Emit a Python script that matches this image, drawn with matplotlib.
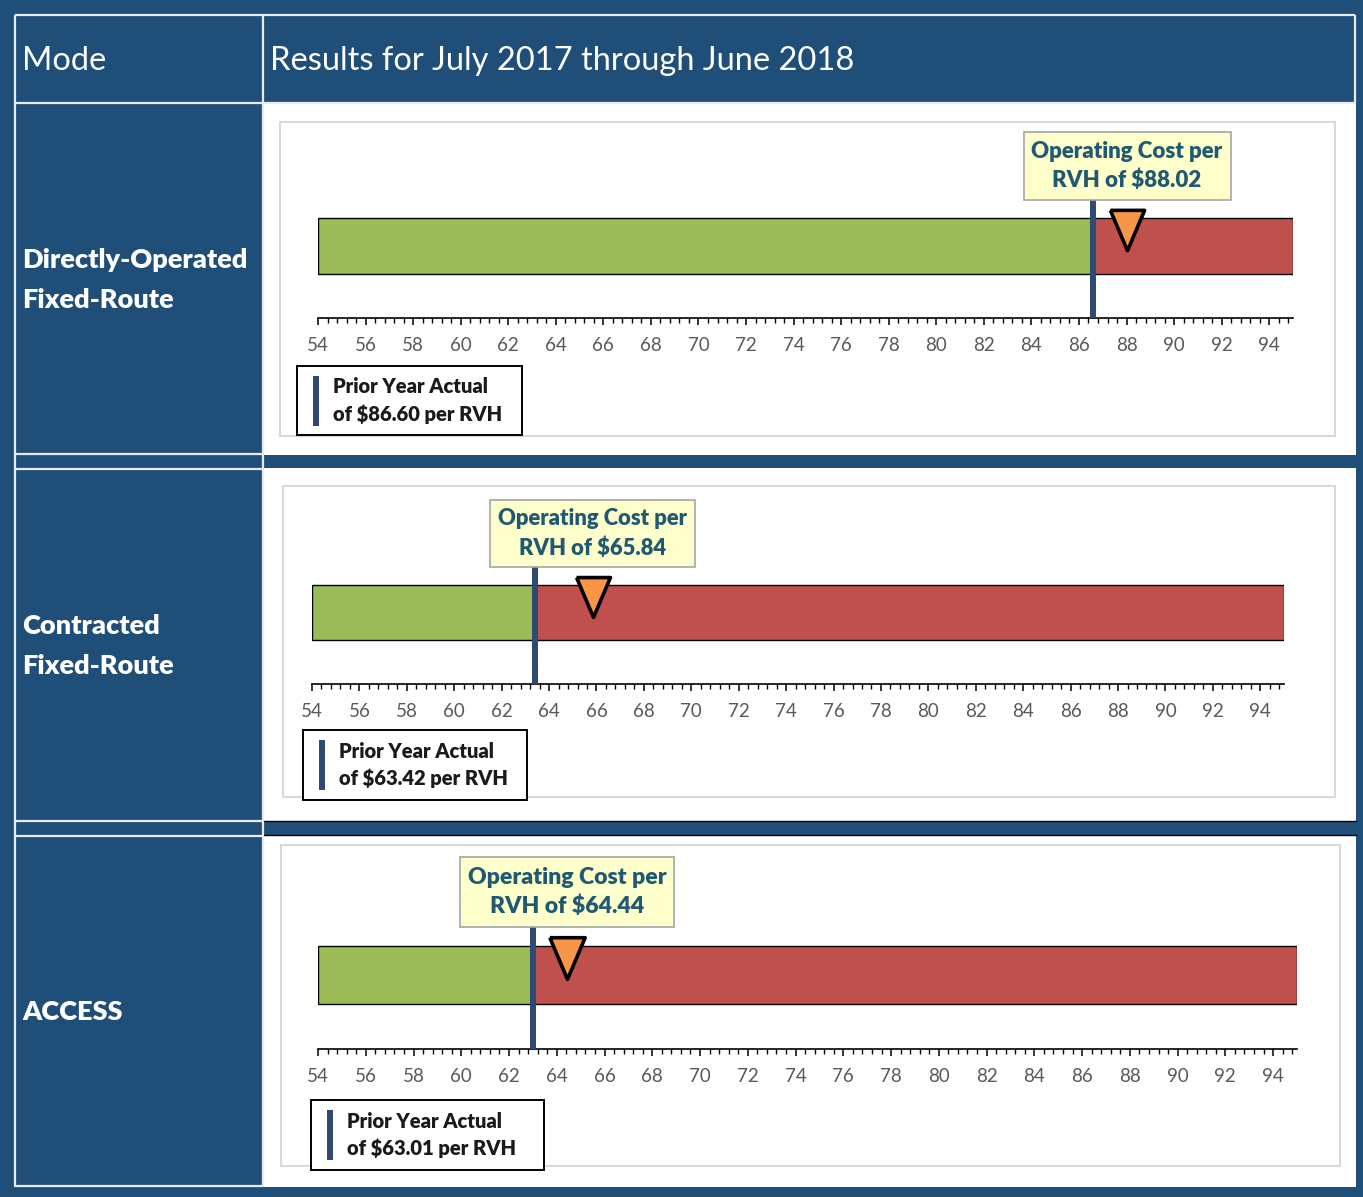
import numpy as np
import matplotlib
matplotlib.use("Agg")
import matplotlib.pyplot as plt
from matplotlib.patches import Rectangle

# Data
MODES = ["Directly-Operated\nFixed-Route", "Contracted\nFixed-Route", "ACCESS"]
COST_PER_RVH = [88.02, 65.84, 64.44]
PRIOR_YEAR = [86.60, 63.42, 63.01]
AXIS_MIN = 54
AXIS_MAX = 95
TICK_LABELS = list(range(54, 95, 2))

HEADER_MODE = "Mode"
HEADER_RESULTS = "Results for July 2017 through June 2018"

# Colours
NAVY = "#1F4E79"
GREEN = "#9BBB59"
RED = "#C0504D"
ORANGE = "#F79646"
PRIOR_BLUE = "#2E4A70"
CALLOUT_FILL = "#FFFFCC"
CALLOUT_TEXT = "#1F5A72"
GRID_GREY = "#D9D9D9"

W, H = 1363, 1197
BOLD = "heavy"

plt.rcParams["font.family"] = ["Lato", "DejaVu Sans"]

# Pixel layout of each chart panel (left, right of axis, callout top, axis line)
LAYOUT = [
    dict(panel=(280, 122, 1335, 436), x0=318, x1=1293, top=132, base=318,
         legend=(297, 366, 522, 435)),
    dict(panel=(283, 486, 1335, 797), x0=312, x1=1284, top=500, base=684,
         legend=(303, 730, 527, 800)),
    dict(panel=(281, 845, 1340, 1166), x0=318, x1=1297, top=857, base=1049,
         legend=(311, 1100, 544, 1170)),
]
ROW_LABEL_Y = [280, 646, 1012]


def rect(ax, x0, y0, x1, y1, **kw):
    """Add a rectangle given by its corners in pixel coordinates."""
    ax.add_patch(Rectangle((x0, y0), x1 - x0, y1 - y0, **kw))


def draw_table(bg):
    """Draw the navy table frame, cells and headers."""
    rect(bg, 263, 103, 1356, 1187, fc="white", ec="none")
    rect(bg, 263, 455, 1356, 468, fc=NAVY, ec="none")
    rect(bg, 263, 821, 1356, 835, fc=NAVY, ec="none")
    bg.plot([263, 1356], [821, 821], color="black", lw=1)
    bg.plot([263, 1356], [835, 835], color="black", lw=1)

    line = dict(color="#E8ECF2", lw=1.6, solid_capstyle="butt")
    bg.plot([15, 1355], [15, 15], **line)
    bg.plot([15, 15], [15, 1187], **line)
    bg.plot([263, 263], [15, 1187], **line)
    bg.plot([1355, 1355], [15, 103], **line)
    bg.plot([15, 1355], [103, 103], **line)
    for y in (454, 469, 821, 836, 1186):
        bg.plot([15, 263], [y, y], **line)

    bg.text(22, 61, HEADER_MODE, color="white", fontsize=23.5, va="center")
    bg.text(270, 61, HEADER_RESULTS, color="white", fontsize=23.5, va="center")
    for label, y in zip(MODES, ROW_LABEL_Y):
        bg.text(22, y, label, color="white", fontsize=19.5, fontweight=BOLD,
                va="center", linespacing=1.75)


def draw_chart(fig, bg, lay, cost, prior):
    """Draw one bullet-style chart with callout and legend."""
    px, py, qx, qy = lay["panel"]
    rect(bg, px, py, qx, qy, fc="white", ec=GRID_GREY, lw=1.5)

    x0, x1, top, base = lay["x0"], lay["x1"], lay["top"], lay["base"]
    h = base - top
    s = h / 186.0
    ax = fig.add_axes([x0 / W, 1 - base / H, (x1 - x0) / W, h / H])
    ax.set_xlim(AXIS_MIN, AXIS_MAX)
    ax.set_ylim(0, h)
    ax.patch.set_alpha(0)
    for side in ("left", "top", "right"):
        ax.spines[side].set_visible(False)
    ax.spines["bottom"].set_linewidth(1.2)
    ax.set_yticks([])
    ax.set_xticks(TICK_LABELS)
    ax.set_xticks(np.arange(AXIS_MIN, AXIS_MAX + 0.01, 0.4), minor=True)
    ax.tick_params(axis="x", which="major", length=5, width=1.1, pad=9,
                   labelsize=13.5, labelcolor="#595959")
    ax.tick_params(axis="x", which="minor", length=3.5, width=1.0)

    bar_lo, bar_hi = 44 * s, 100 * s
    ax.barh((bar_lo + bar_hi) / 2, prior - AXIS_MIN, left=AXIS_MIN,
            height=bar_hi - bar_lo, color=GREEN, edgecolor="black", lw=1)
    ax.barh((bar_lo + bar_hi) / 2, AXIS_MAX - prior, left=prior,
            height=bar_hi - bar_lo, color=RED, edgecolor="black", lw=1)

    box_lo = 118 * s
    ax.vlines(prior, 0, box_lo, color=PRIOR_BLUE, lw=4.3, zorder=4)

    tri = [(-0.85, 1), (0.85, 1), (0, -1), (-0.85, 1)]
    ax.plot([cost], [88 * s], marker=tri, ms=29 * s, mfc=ORANGE, mec="black",
            mew=2.6, zorder=5, clip_on=False)

    ppu = (x1 - x0) / (AXIS_MAX - AXIS_MIN)
    half = 103.5 * s / ppu
    ax.add_patch(Rectangle((cost - half, box_lo), 2 * half, h - box_lo,
                           fc=CALLOUT_FILL, ec="#A6A6A6", lw=1.2, zorder=6,
                           clip_on=False))
    ax.text(cost, (box_lo + h) / 2, f"Operating Cost per\nRVH of ${cost:.2f}",
            ha="center", va="center", fontsize=16 * s, fontweight=BOLD,
            color=CALLOUT_TEXT, linespacing=1.45, zorder=7)

    lx, ly, rx, ry = lay["legend"]
    rect(bg, lx, ly, rx, ry, fc="white", ec="black", lw=1.4)
    mid = (ly + ry) / 2
    bg.plot([lx + 19, lx + 19], [mid - 25, mid + 25], color=PRIOR_BLUE, lw=4.3,
            solid_capstyle="butt")
    bg.text(lx + 36, mid, f"Prior Year Actual\nof ${prior:.2f} per RVH",
            fontsize=14.5, fontweight=BOLD, color="#1A1A1A", va="center",
            linespacing=1.5)


if __name__ == "__main__":
    fig = plt.figure(figsize=(W / 100, H / 100), dpi=100)
    fig.patch.set_facecolor(NAVY)
    bg = fig.add_axes([0, 0, 1, 1])
    bg.set_xlim(0, W)
    bg.set_ylim(H, 0)
    bg.axis("off")

    draw_table(bg)
    for lay, cost, prior in zip(LAYOUT, COST_PER_RVH, PRIOR_YEAR):
        draw_chart(fig, bg, lay, cost, prior)

    fig.savefig("out.png", dpi=100, facecolor=NAVY)
